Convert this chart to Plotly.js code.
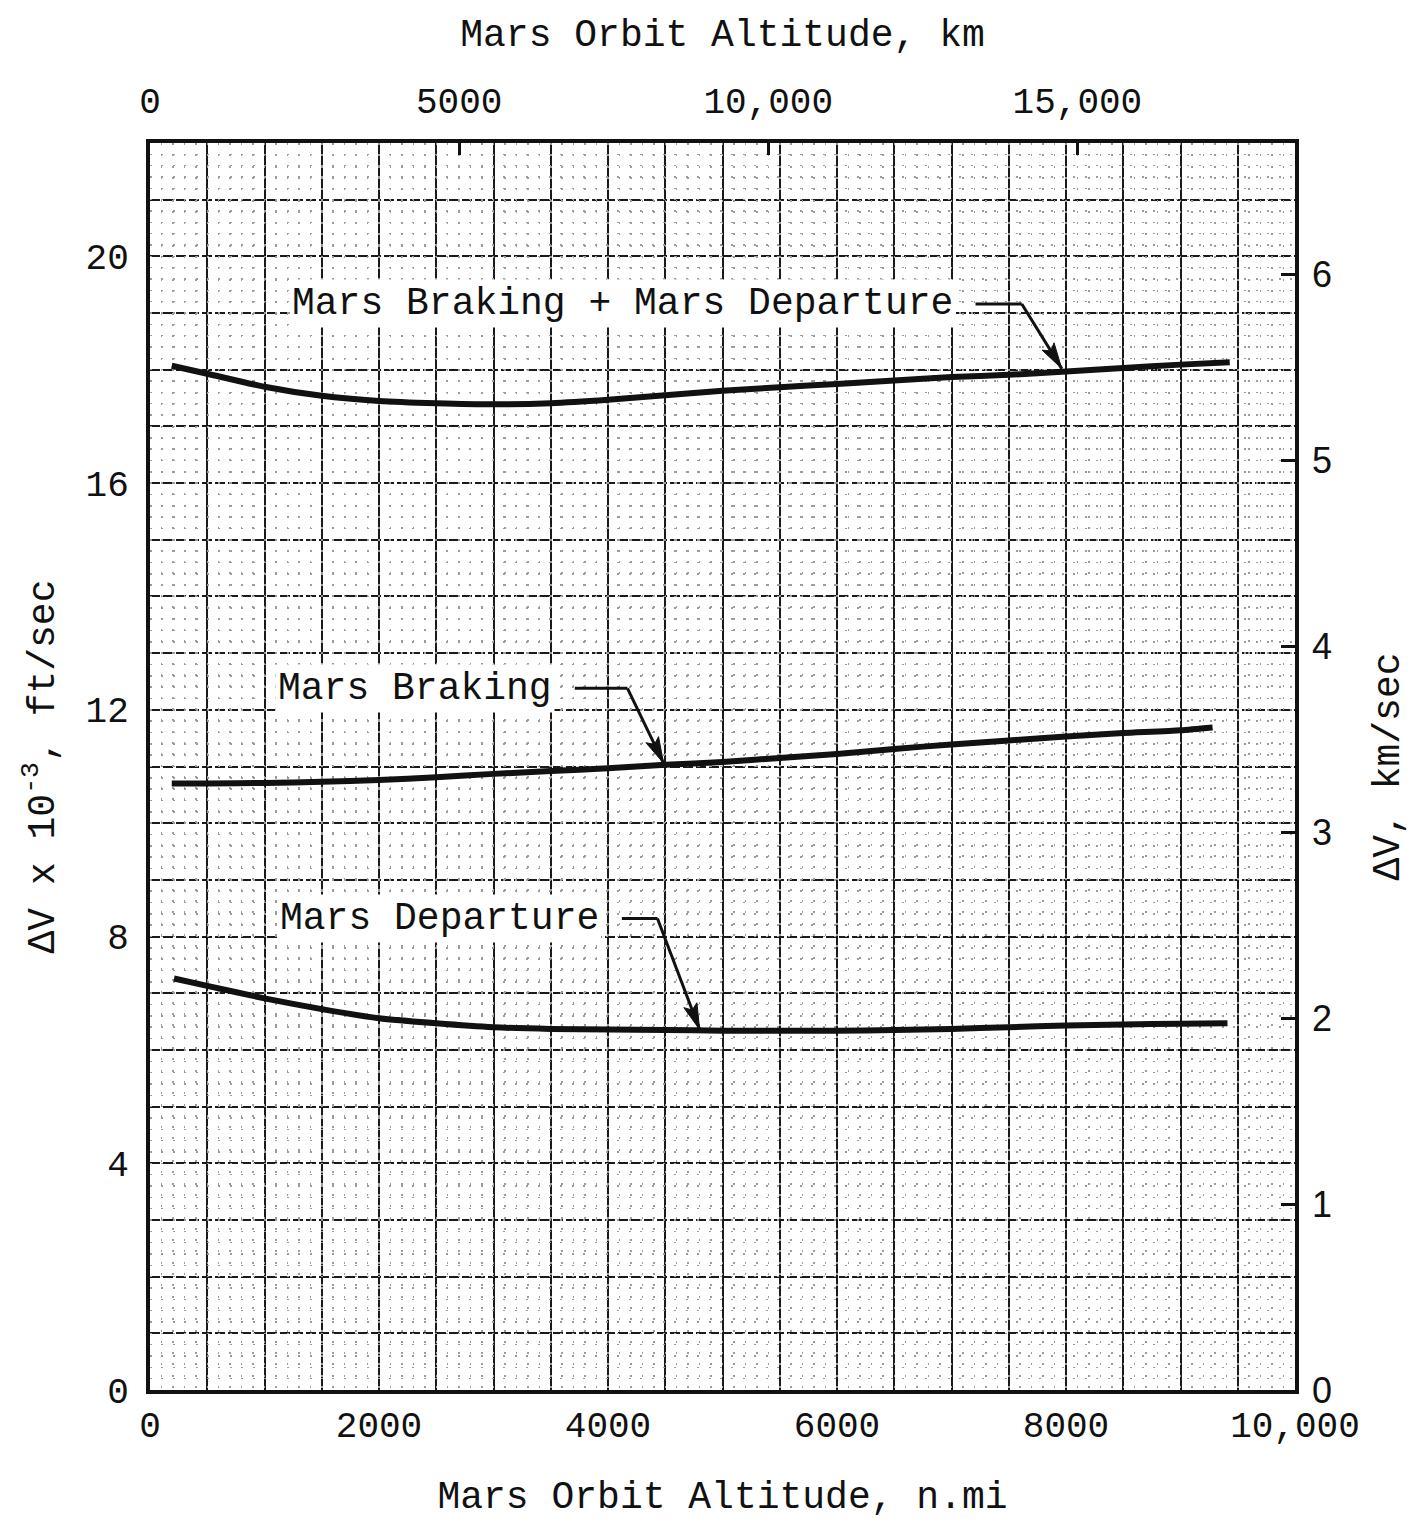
<!DOCTYPE html>
<html>
<head>
<meta charset="utf-8">
<script src="https://cdn.plot.ly/plotly-3.0.1.min.js"></script>
<style>
  html, body { margin: 0; padding: 0; background: #ffffff; }
  #chart { width: 1410px; height: 1519px; }
</style>
</head>
<body>
<div id="chart"></div>
<script>
// ---- Data (altitude in n.mi, ΔV in 1000 ft/sec) ----
const altCombined = [190, 500, 1000, 1500, 2000, 2500, 3000, 3500, 4000, 4500, 5000, 5500, 6000, 6500, 7000, 7500, 8000, 8500, 9000, 9430];
const dvCombined  = [18.07, 17.93, 17.70, 17.54, 17.45, 17.41, 17.39, 17.41, 17.47, 17.55, 17.63, 17.69, 17.75, 17.81, 17.87, 17.91, 17.97, 18.03, 18.09, 18.13];

const altBraking = [190, 500, 1000, 1500, 2000, 2500, 3000, 3500, 4000, 4500, 5000, 5500, 6000, 6500, 7000, 7500, 8000, 8500, 9000, 9280];
const dvBraking  = [10.70, 10.70, 10.71, 10.73, 10.76, 10.81, 10.87, 10.92, 10.97, 11.03, 11.08, 11.15, 11.22, 11.31, 11.39, 11.46, 11.53, 11.59, 11.64, 11.69];

const altDeparture = [210, 500, 1000, 1500, 2000, 2500, 3000, 3500, 4000, 4500, 5000, 5500, 6000, 6500, 7000, 7500, 8000, 8500, 9000, 9410];
const dvDeparture  = [7.26, 7.13, 6.91, 6.72, 6.56, 6.47, 6.40, 6.37, 6.36, 6.35, 6.34, 6.34, 6.34, 6.35, 6.37, 6.40, 6.43, 6.45, 6.46, 6.47];

const curveLabels = ["Mars Braking + Mars Departure", "Mars Braking", "Mars Departure"];

const bottomTicks = [0, 2000, 4000, 6000, 8000, 10000];
const bottomTickText = ["0", "2000", "4000", "6000", "8000", "10,000"];
const leftTicks = [0, 4, 8, 12, 16, 20];
const topTicks = [0, 5000, 10000, 15000];
const topTickText = ["0", "5000", "10,000", "15,000"];
const rightTicks = [0, 1, 2, 3, 4, 5, 6];

const NMI_TO_KM = 1.852;
const KFTS_TO_KMS = 0.3048;
const X_MAX = 10000, Y_MAX = 22;

const MONO = "Liberation Mono, Courier New, monospace";
const ink = "#111";

const curveLine = { color: ink, width: 6, shape: "spline", smoothing: 0.6 };

const traces = [
  { x: altCombined, y: dvCombined, mode: "lines", line: curveLine, name: curveLabels[0], hoverinfo: "skip" },
  { x: altBraking, y: dvBraking, mode: "lines", line: curveLine, name: curveLabels[1], hoverinfo: "skip" },
  { x: altDeparture, y: dvDeparture, mode: "lines", line: curveLine, name: curveLabels[2], hoverinfo: "skip" },
  // invisible traces that activate the km / km-per-sec axes and the fine graph-paper grid
  { x: [0, X_MAX * NMI_TO_KM], y: [0, Y_MAX * KFTS_TO_KMS], xaxis: "x2", yaxis: "y2", mode: "markers",
    marker: { opacity: 0 }, showlegend: false, hoverinfo: "skip" },
  { x: [0, X_MAX], y: [0, Y_MAX], xaxis: "x3", yaxis: "y3", mode: "markers",
    marker: { opacity: 0 }, showlegend: false, hoverinfo: "skip" }
];

// plot-area size in pixels (for arrowhead orientation)
const PLOT_W = 1410 - 150 - 115, PLOT_H = 1519 - 143 - 129;
const SX = PLOT_W / X_MAX, SY = PLOT_H / Y_MAX;

// leader lines: [label index, text right x, text y, knee x, tip x, tip y]
const leaders = [
  [0, 7040, 19.16, 7614, 7963, 18.02],
  [1, 3540, 12.38, 4170, 4485, 11.06],
  [2, 3951, 8.32, 4432, 4800, 6.36]
];

const annotations = [];
const shapes = [];
leaders.forEach(function (l) {
  annotations.push({
    x: l[1], y: l[2], xref: "x", yref: "y", text: curveLabels[l[0]],
    showarrow: false, xanchor: "right", yanchor: "middle",
    bgcolor: "#ffffff", borderpad: 2,
    font: { family: MONO, size: 38, color: ink }
  });
  // horizontal part of leader
  shapes.push({
    type: "line", xref: "x", yref: "y", x0: l[1] + 170, y0: l[2], x1: l[3], y1: l[2],
    line: { color: ink, width: 3 }
  });
  // diagonal part of leader
  shapes.push({
    type: "line", xref: "x", yref: "y", x0: l[3], y0: l[2], x1: l[4], y1: l[5],
    line: { color: ink, width: 3 }
  });
  // arrowhead (pixel-sized triangle anchored on the tip)
  const dx = (l[4] - l[3]) * SX, dy = (l[5] - l[2]) * SY;
  const len = Math.sqrt(dx * dx + dy * dy);
  const ux = dx / len, uy = dy / len, nx = -uy, ny = ux;
  const L = 26, W = 7;
  const bx = -ux * L, by = -uy * L;
  const p = [[0, 0], [bx + nx * W, by + ny * W], [bx * 0.8, by * 0.8], [bx - nx * W, by - ny * W]];
  shapes.push({
    type: "path", xref: "x", yref: "y", xsizemode: "pixel", ysizemode: "pixel",
    xanchor: l[4], yanchor: l[5],
    path: "M" + p.map(function (q) { return q[0].toFixed(2) + "," + q[1].toFixed(2); }).join(" L") + " Z",
    fillcolor: ink, line: { color: ink, width: 1 }
  });
});

const gridDark = "#1a1a1a";
const gridDots = "#9c9c9c";

const layout = {
  width: 1410, height: 1519,
  paper_bgcolor: "#ffffff", plot_bgcolor: "#ffffff",
  margin: { l: 150, r: 115, t: 143, b: 129 },
  showlegend: false,
  font: { family: MONO, color: ink, size: 36 },
  xaxis: {
    range: [0, X_MAX], tickvals: bottomTicks, ticktext: bottomTickText,
    ticks: "", showline: true, linewidth: 4, linecolor: ink, mirror: true,
    showgrid: true, gridcolor: gridDark, gridwidth: 2,
    minor: { dtick: 500, tick0: 0, showgrid: true, gridcolor: gridDark, gridwidth: 2, ticks: "" },
    tickfont: { family: MONO, size: 36, color: ink },
    title: { text: "Mars Orbit Altitude, n.mi", font: { family: MONO, size: 38, color: ink }, standoff: 40 },
    zeroline: false, fixedrange: true
  },
  yaxis: {
    range: [0, Y_MAX], tickvals: leftTicks,
    ticks: "", showline: true, linewidth: 4, linecolor: ink, mirror: true,
    showgrid: true, gridcolor: gridDark, gridwidth: 2, griddash: "10px,3px",
    minor: { dtick: 1, tick0: 0, showgrid: true, gridcolor: gridDark, gridwidth: 2, griddash: "10px,3px", ticks: "" },
    tickfont: { family: MONO, size: 36, color: ink },
    ticklabelstandoff: 10,
    title: { text: "\u0394V x 10<sup>-3</sup>, ft/sec", font: { family: MONO, size: 38, color: ink }, standoff: 20 },
    zeroline: false, fixedrange: true
  },
  xaxis2: {
    overlaying: "x", side: "top", anchor: "y2",
    range: [0, X_MAX * NMI_TO_KM], tickvals: topTicks, ticktext: topTickText,
    ticks: "inside", ticklen: 12, tickwidth: 3, tickcolor: ink,
    showgrid: false, zeroline: false, showline: false,
    tickfont: { family: MONO, size: 36, color: ink },
    ticklabelstandoff: 22,
    title: { text: "Mars Orbit Altitude, km", font: { family: MONO, size: 38, color: ink }, standoff: 24 },
    fixedrange: true
  },
  yaxis2: {
    overlaying: "y", side: "right", anchor: "x2",
    range: [0, Y_MAX * KFTS_TO_KMS], tickvals: rightTicks,
    ticks: "inside", ticklen: 14, tickwidth: 3, tickcolor: ink,
    showgrid: false, zeroline: false, showline: false,
    tickfont: { family: "Liberation Sans, Arial, sans-serif", size: 36, color: ink },
    ticklabelstandoff: 16,
    title: { text: "\u0394V, km/sec", font: { family: MONO, size: 38, color: ink }, standoff: 42 },
    fixedrange: true
  },
  xaxis3: {
    overlaying: "x", anchor: "y3", range: [0, X_MAX], dtick: 100, tick0: 0,
    showticklabels: false, ticks: "", showline: false, zeroline: false,
    showgrid: true, gridcolor: gridDots, gridwidth: 1.5, griddash: "2px,9.3px", fixedrange: true
  },
  yaxis3: {
    overlaying: "y", anchor: "x3", range: [0, Y_MAX], dtick: 0.2, tick0: 0,
    showticklabels: false, ticks: "", showline: false, zeroline: false,
    showgrid: true, gridcolor: gridDots, gridwidth: 1.5, griddash: "2px,9.4px", fixedrange: true
  },
  annotations: annotations,
  shapes: shapes
};

Plotly.newPlot("chart", traces, layout, { displayModeBar: false, staticPlot: true });
</script>
</body>
</html>
